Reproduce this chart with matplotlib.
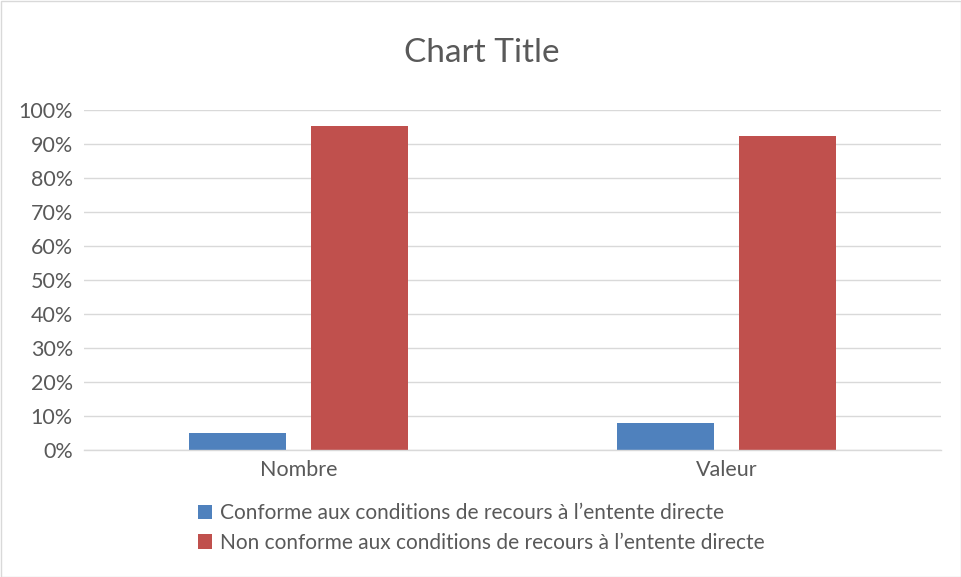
import matplotlib
matplotlib.use("Agg")
import matplotlib.pyplot as plt
import numpy as np
from matplotlib.patches import Rectangle

categories = ["Nombre", "Valeur"]
series_names = ["Conforme aux conditions de recours à l’entente directe",
                "Non conforme aux conditions de recours à l’entente directe"]
conforme = [0.05, 0.079]
non_conforme = [0.953, 0.924]
colors = ["#4F81BD", "#C0504D"]
yticks = np.arange(0, 1.01, 0.1)

plt.rcParams['font.family'] = ['Lato', 'DejaVu Sans']
text_color = "#595959"

fig = plt.figure(figsize=(9.61, 5.77), dpi=100)
ax = fig.add_axes([84/961, 1-450/577, (941-84)/961, 340/577])

x = np.arange(len(categories))
w = 0.226
off = 0.142
ax.bar(x - off, conforme, w, color=colors[0], label=series_names[0], zorder=3)
ax.bar(x + off, non_conforme, w, color=colors[1], label=series_names[1], zorder=3)

ax.set_xlim(-0.5, 1.5)
ax.set_ylim(0, 1.0)
ax.set_yticks(yticks)
ax.set_yticklabels([f"{int(round(t*100))}%" for t in yticks])
ax.set_xticks(x)
ax.set_xticklabels(categories)
ax.tick_params(axis='both', length=0, labelsize=15.5, colors=text_color)
ax.tick_params(axis='x', pad=7)
ax.tick_params(axis='y', pad=8)
ax.grid(axis='y', color="#D9D9D9", linewidth=1, zorder=0)
for s in ["top", "right", "left"]:
    ax.spines[s].set_visible(False)
ax.spines["bottom"].set_color("#D9D9D9")
ax.spines["bottom"].set_linewidth(1)
ax.spines["bottom"].set_zorder(4)

fig.text(482/961, 1-53/577, "Chart Title", ha="center", va="center", fontsize=24, color=text_color)

leg = fig.legend(loc="center", bbox_to_anchor=(481/961, 1-528/577), ncol=1, frameon=False,
                 fontsize=15, handlelength=0.7, handleheight=0.7, handletextpad=0.35,
                 labelspacing=0.45, labelcolor=text_color)

fig.patches.append(Rectangle((0.5/961, 0.5/577), 1-1/961, 1-1/577, transform=fig.transFigure,
                             fill=False, edgecolor="#D9D9D9", linewidth=1))

fig.savefig("out.png", dpi=100)
